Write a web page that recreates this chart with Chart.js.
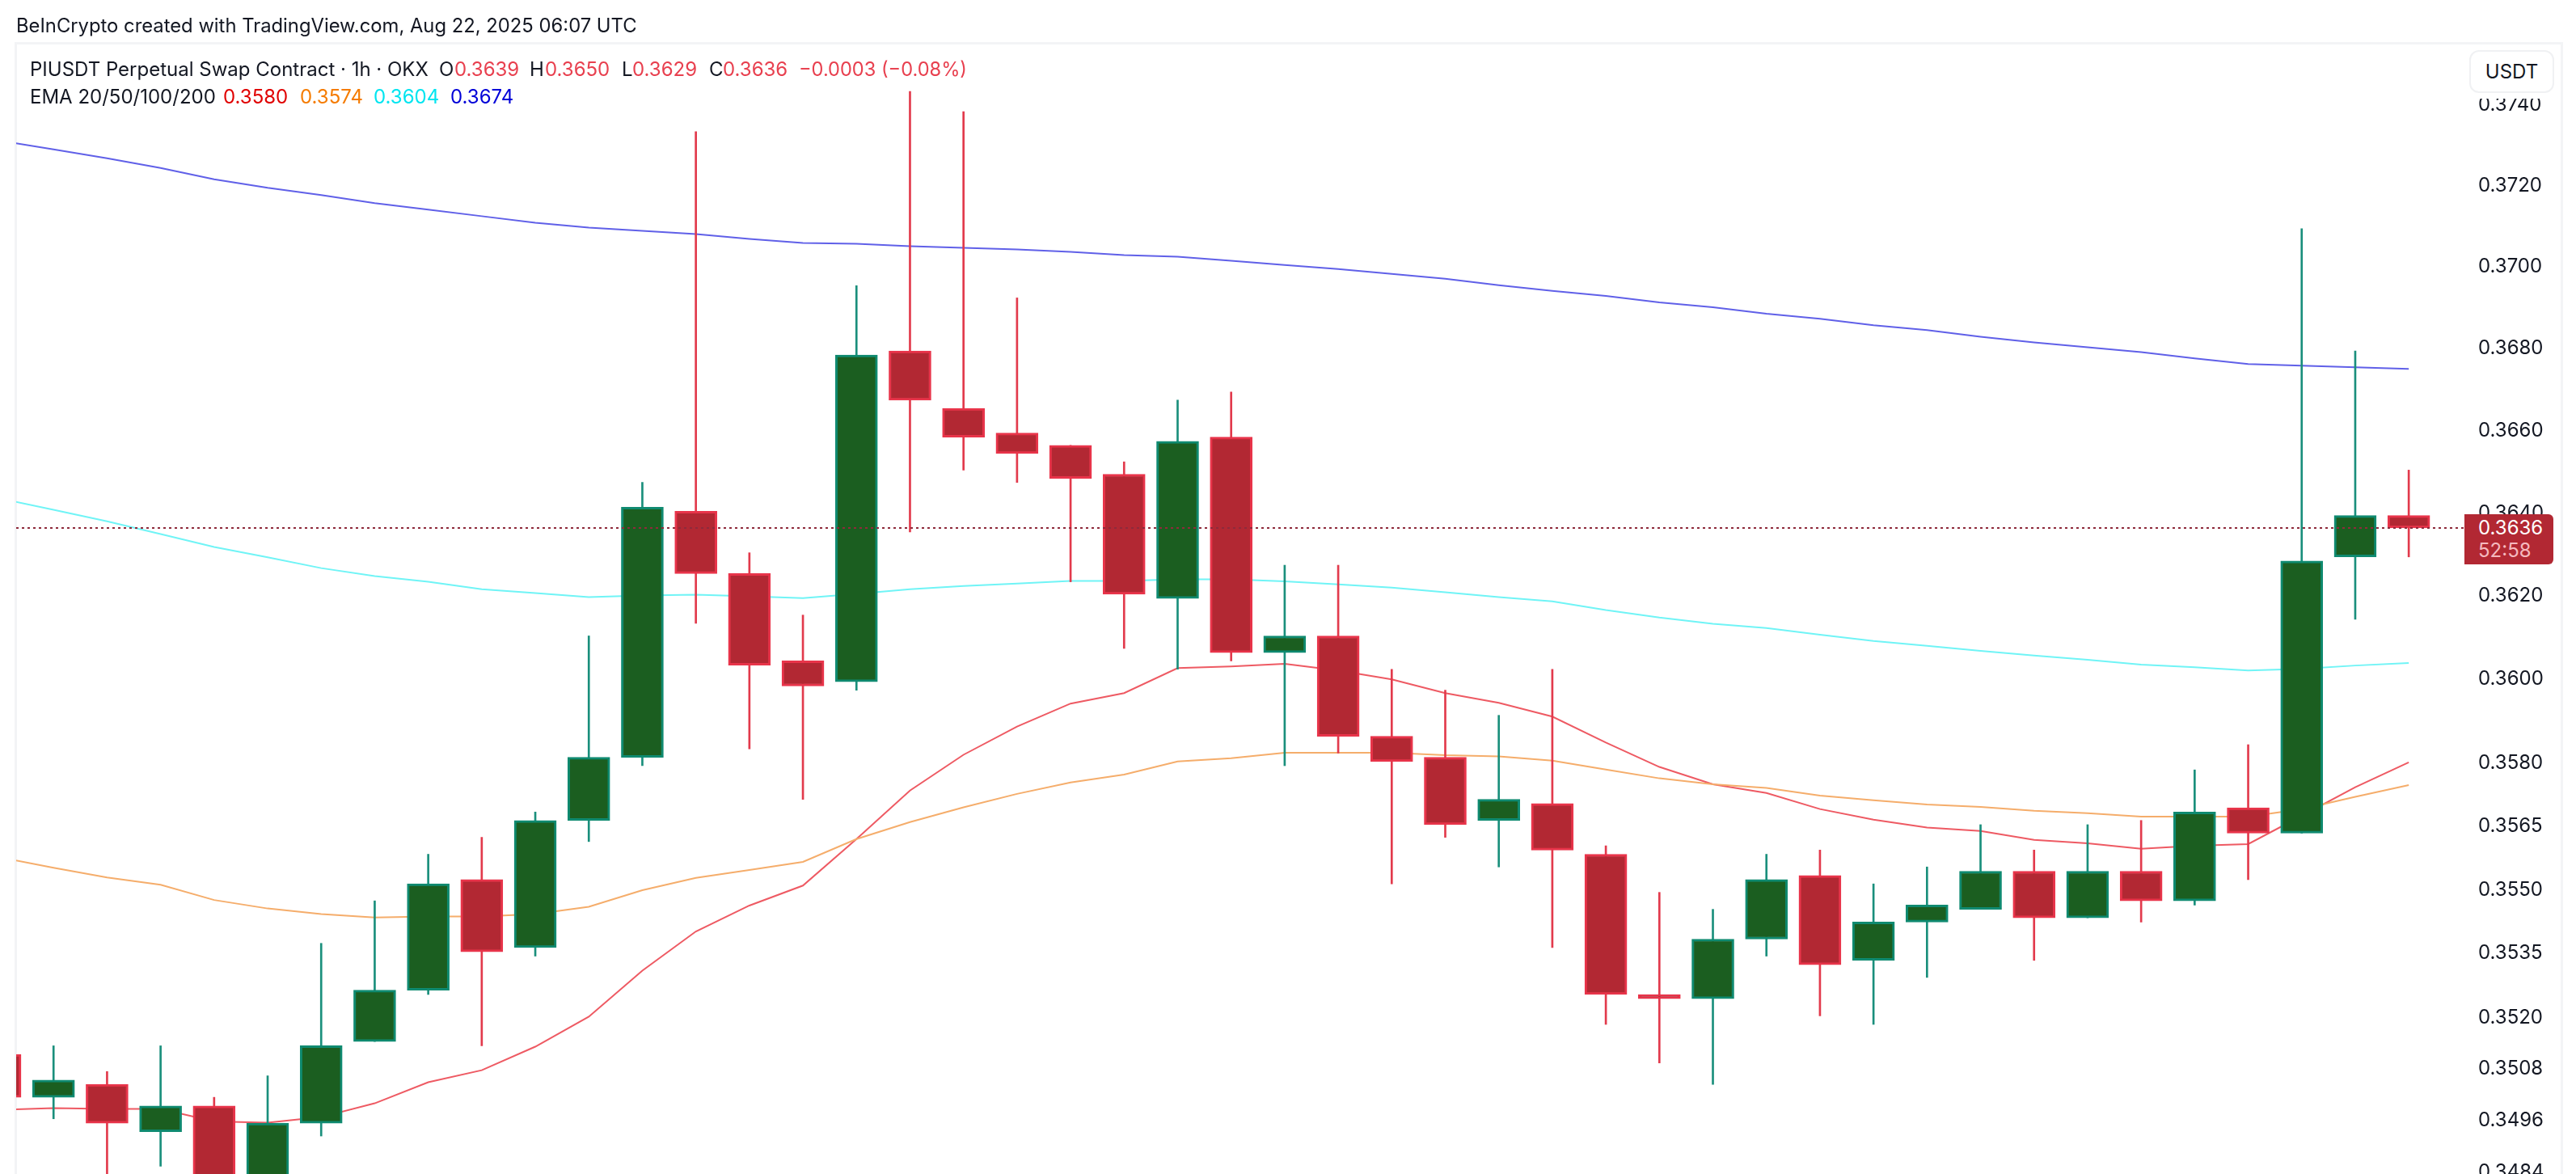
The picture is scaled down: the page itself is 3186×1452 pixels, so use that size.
<!DOCTYPE html>
<html>
<head>
<meta charset="utf-8">
<title>PIUSDT 1h</title>
<script src="https://cdn.jsdelivr.net/npm/chart.js@4/dist/chart.umd.min.js"></script>
<style>
    html, body { margin: 0; padding: 0; background: #fff; width: 3186px; height: 1452px; overflow: hidden; }
    body { position: relative; font-family: Inter, "Noto Sans", sans-serif; color: #131722; }
    #chart { position: absolute; left: 0; top: 0; }
    #frame { position: absolute; left: 18px; top: 52px; width: 3146px; height: 1420px; border: 3px solid #f3f4f6; }
    .txt { position: absolute; white-space: nowrap; font-size: 24px; line-height: 30px; }
    .red { color: #e8404f; }
    #topMask { position: absolute; left: 3052px; top: 56px; width: 112px; height: 66px; background: #fff; }
    #usdt { position: absolute; left: 3054px; top: 62px; width: 101px; height: 49px; border: 2px solid #f0f1f3; border-radius: 12px;
            background: #fff; text-align: center; line-height: 49px; font-size: 24px; }
    #priceBox { position: absolute; left: 3048px; width: 110px; height: 62px; background: #b22833; border-radius: 0 6px 6px 0; }
    #priceBox span { position: absolute; left: 17px; font-size: 24px; line-height: 28px; }
</style>
</head>
<body>
<div id="frame"></div>
<canvas id="chart" width="3186" height="1452"></canvas>

<div class="txt" style="left:20px;top:17px;font-size:23.8px">BeInCrypto created with TradingView.com, Aug 22, 2025 06:07 UTC</div>

<div class="txt" style="left:37px;top:71px">PIUSDT Perpetual Swap Contract · 1h · OKX</div>
<div class="txt" style="left:543px;top:71px">O</div><div class="txt red" style="left:562px;top:71px">0.3639</div>
<div class="txt" style="left:655px;top:71px">H</div><div class="txt red" style="left:674px;top:71px">0.3650</div>
<div class="txt" style="left:769px;top:71px">L</div><div class="txt red" style="left:782px;top:71px">0.3629</div>
<div class="txt" style="left:877px;top:71px">C</div><div class="txt red" style="left:894px;top:71px">0.3636</div>
<div class="txt red" style="left:988px;top:71px;font-size:23.6px">−0.0003 (−0.08%)</div>

<div class="txt" style="left:37px;top:105px">EMA 20/50/100/200</div>
<div class="txt" style="left:276px;top:105px;color:#e00000">0.3580</div>
<div class="txt" style="left:371px;top:105px;color:#f57c00">0.3574</div>
<div class="txt" style="left:462px;top:105px;color:#00e5f0">0.3604</div>
<div class="txt" style="left:557px;top:105px;color:#0000d8">0.3674</div>

<div id="topMask"></div>
<div id="usdt">USDT</div>
<div id="priceBox"><span id="priceVal" style="color:#fff;top:3px"></span><span style="color:#f5b9be;top:31px">52:58</span></div>

<script>
// candle index, one per hour
const candleIdx = [0,1,2,3,4,5,6,7,8,9,10,11,12,13,14,15,16,17,18,19,20,21,22,23,24,25,26,27,28,29,30,31,32,33,34,35,36,37,38,39,40,41,42,43,44,45];

const opens = [.3511,.3501,.3504,.3493,.3499,.3478,.3495,.3514,.3526,.3552,.3536,.3566,.3581,.3640,.3625,.3604,.3599,.3679,.3665,.3659,.3656,.3649,.3619,.3658,.3606,.3610,.3586,.3581,.3566,.3570,.3558,.3525,.3524,.3538,.3553,.3533,.3542,.3545,.3554,.3543,.3554,.3547,.3569,.3563,.3629,.3639];
const highs = [.3514,.3513,.3507,.3513,.3501,.3506,.3537,.3547,.3558,.3562,.3568,.3610,.3647,.3733,.3630,.3615,.3695,.3743,.3738,.3692,.3656,.3652,.3667,.3669,.3627,.3627,.3602,.3597,.3591,.3602,.3560,.3549,.3545,.3558,.3559,.3551,.3555,.3565,.3559,.3565,.3566,.3578,.3584,.3709,.3679,.3650];
const lows = [.3498,.3496,.3480,.3485,.3475,.3475,.3492,.3514,.3525,.3513,.3534,.3561,.3579,.3613,.3583,.3571,.3597,.3635,.3650,.3647,.3623,.3607,.3602,.3604,.3579,.3582,.3551,.3562,.3555,.3536,.3518,.3509,.3504,.3534,.3520,.3518,.3529,.3545,.3533,.3543,.3542,.3546,.3552,.3563,.3614,.3629];
const closes = [.3501,.3505,.3495,.3499,.3478,.3495,.3513,.3526,.3551,.3535,.3566,.3581,.3641,.3625,.3603,.3598,.3678,.3667,.3658,.3654,.3648,.3620,.3657,.3606,.3610,.3586,.3580,.3565,.3571,.3559,.3525,.3524,.3538,.3552,.3532,.3542,.3546,.3554,.3543,.3554,.3547,.3568,.3563,.3628,.3639,.3636];

const ema20 = [.34981,.34985,.34983,.34983,.34954,.34951,.34964,.34996,.35045,.35073,.35128,.35198,.35306,.35398,.35459,.35506,.35616,.35731,.35816,.35883,.35938,.35963,.36023,.36027,.36033,.36017,.35996,.35963,.35940,.35907,.35845,.35787,.35746,.35725,.35687,.35662,.35643,.35635,.35614,.35606,.35593,.35600,.35604,.35671,.35739,.35798];
const ema50 = [.35573,.35548,.35525,.35508,.35472,.35452,.35439,.35431,.35433,.35433,.35439,.35456,.35495,.35524,.35543,.35562,.35616,.35656,.35691,.35723,.35750,.35769,.35800,.35808,.35821,.35821,.35821,.35815,.35812,.35802,.35781,.35760,.35746,.35737,.35719,.35708,.35698,.35692,.35683,.35677,.35669,.35669,.35669,.35687,.35716,.35744];
const ema100 = [.36431,.36404,.36376,.36345,.36314,.36289,.36263,.36244,.36230,.36212,.36203,.36193,.36197,.36199,.36195,.36191,.36201,.36212,.36220,.36226,.36232,.36232,.36236,.36236,.36231,.36224,.36216,.36205,.36193,.36183,.36162,.36144,.36129,.36119,.36103,.36088,.36076,.36064,.36053,.36043,.36031,.36025,.36017,.36021,.36029,.36035];
const ema200 = [.37308,.37286,.37264,.37240,.37212,.37191,.37173,.37153,.37137,.37121,.37105,.37093,.37085,.37077,.37065,.37055,.37053,.37047,.37043,.37039,.37033,.37025,.37021,.37011,.37001,.36991,.36979,.36967,.36951,.36937,.36925,.36909,.36897,.36881,.36869,.36853,.36841,.36825,.36811,.36799,.36787,.36772,.36758,.36754,.36750,.36746];

const tickValues = [.3740,.3720,.3700,.3680,.3660,.3640,.3620,.3600,.3580,.3565,.3550,.3535,.3520,.3508,.3496,.3484];
const lastClose = closes[closes.length - 1];

// visible range of the pane
const xMin = 0.302, xMax = 46.07;
const yMin = 0.34832, yMax = 0.37547;

const isUp = (i) => closes[i] >= opens[i];
const points = (arr) => candleIdx.map((x, i) => ({ x, y: arr[i] }));

function emaLine(label, values, color) {
    return {
        type: "line", label, data: points(values), borderColor: color, borderWidth: 2,
        pointRadius: 0, tension: 0, order: 5,
    };
}

const chart = new Chart(document.getElementById("chart").getContext("2d"), {
    data: {
        datasets: [
            emaLine("EMA 200", ema200, "#6060e8"),
            emaLine("EMA 100", ema100, "#70f4f6"),
            emaLine("EMA 50", ema50, "#f5ad6b"),
            emaLine("EMA 20", ema20, "#ee5a63"),
            {
                type: "bar", label: "wick", grouped: false, order: 3, barThickness: 2,
                data: candleIdx.map((x, i) => ({ x, y: [lows[i], highs[i]] })),
                backgroundColor: candleIdx.map((_, i) => (isUp(i) ? "#1a8f7c" : "#e23a4c")),
            },
            {
                type: "bar", label: "body", grouped: false, order: 2, barThickness: 52,
                data: candleIdx.map((x, i) => ({ x, y: [opens[i], closes[i]] })),
                backgroundColor: candleIdx.map((_, i) => (isUp(i) ? "#1b5e20" : "#b22833")),
                borderColor: candleIdx.map((_, i) => (isUp(i) ? "#0f8a70" : "#e8344a")),
                borderWidth: 3, borderSkipped: false,
            },
            {
                type: "line", label: "last", order: 1, borderColor: "#8e2a3b", borderWidth: 2,
                borderDash: [3, 4], pointRadius: 0,
                data: [{ x: xMin, y: lastClose }, { x: xMax, y: lastClose }],
            },
        ],
    },
    options: {
        responsive: false,
        animation: false,
        layout: { padding: { left: 20, top: 55, right: 0, bottom: 0 } },
        plugins: { legend: { display: false }, tooltip: { enabled: false } },
        scales: {
            x: { type: "linear", min: xMin, max: xMax, offset: false, display: false },
            y: {
                type: "logarithmic", position: "right", min: yMin, max: yMax,
                grid: { display: false, drawTicks: false }, border: { display: false },
                afterBuildTicks: (scale) => { scale.ticks = tickValues.map((value) => ({ value })); },
                afterFit: (scale) => { scale.width = 136; scale.paddingTop = 0; scale.paddingBottom = 0; },
                ticks: {
                    autoSkip: false, padding: 15, labelOffset: 2, color: "#131722", maxRotation: 0,
                    font: { family: "Inter", size: 24 },
                    callback: (v) => Number(v).toFixed(4),
                },
            },
        },
    },
});

// price tag sits on the last close
const priceBox = document.getElementById("priceBox");
priceBox.style.top = chart.scales.y.getPixelForValue(lastClose) - 17 + "px";
document.getElementById("priceVal").textContent = lastClose.toFixed(4);
</script>
</body>
</html>
